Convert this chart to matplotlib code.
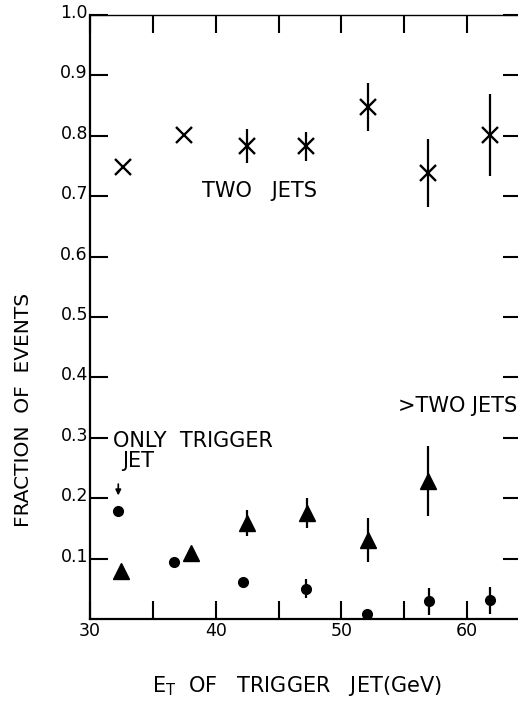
import matplotlib
matplotlib.use("Agg")
import matplotlib.pyplot as plt
import matplotlib.transforms as mtransforms

# Fraction of events vs. transverse energy of the trigger jet
et_two = [32.6, 37.5, 42.5, 47.2, 52.1, 56.9, 61.8]
frac_two = [0.748, 0.801, 0.783, 0.783, 0.848, 0.738, 0.801]
err_two = [0.0, 0.0, 0.028, 0.024, 0.040, 0.056, 0.068]

et_only = [32.25, 36.7, 42.2, 47.2, 52.0, 57.0, 61.8]
frac_only = [0.178, 0.094, 0.061, 0.050, 0.009, 0.029, 0.031]
err_only = [0.0, 0.0, 0.0, 0.016, 0.0, 0.022, 0.022]

et_more = [32.5, 38.0, 42.5, 47.3, 52.1, 56.9]
frac_more = [0.080, 0.110, 0.159, 0.175, 0.131, 0.228]
err_more = [0.0, 0.0, 0.022, 0.025, 0.037, 0.058]

x_major = [30, 35, 40, 45, 50, 55, 60]
x_labels = ["30", "", "40", "", "50", "", "60"]
y_major = [0.1, 0.2, 0.3, 0.4, 0.5, 0.6, 0.7, 0.8, 0.9, 1.0]
y_labels = ["0.1", "0.2", "0.3", "0.4", "0.5", "0.6", "0.7", "0.8", "0.9", "1.0"]

plt.rcParams["font.family"] = ["DejaVu Sans"]
plt.rcParams["mathtext.default"] = "regular"

W, H = 518, 704
fig = plt.figure(figsize=(W / 100, H / 100), dpi=100)
ax_left, ax_top, ax_bottom, ax_right = 90, 15, 619, 521
ax_w, ax_h = ax_right - ax_left, ax_bottom - ax_top
ax = fig.add_axes([ax_left / W, 1 - ax_bottom / H, ax_w / W, ax_h / H])
ax.set_xlim(30, 30 + ax_w / 12.57)
ax.set_ylim(0, 1.0)

for side in ("left", "bottom", "right"):
    ax.spines[side].set_linewidth(1.6)
ax.spines["top"].set_linewidth(1.0)

# Ticks: all pointing inward, labels only on left and bottom
ax.set_xticks(x_major)
ax.set_xticklabels(x_labels, fontsize=12.5)
ax.set_yticks(y_major)
ax.set_yticklabels(y_labels, fontsize=12.5)
ax.tick_params(axis="both", direction="in", length=13, width=1.5,
               top=True, right=True, pad=2.5)
ax.tick_params(axis="y", pad=1.5)
shift = mtransforms.ScaledTranslation(0, 4 / 100, fig.dpi_scale_trans)
for lab in ax.get_yticklabels():
    lab.set_transform(lab.get_transform() + shift)

# Two-jet events
ax.errorbar(et_two, frac_two, yerr=err_two, fmt="x", color="black",
            markersize=11, markeredgewidth=1.7, elinewidth=1.6, capsize=0)
# Only the trigger jet
ax.errorbar(et_only, frac_only, yerr=err_only, fmt="o", color="black",
            markersize=7, elinewidth=1.6, capsize=0)
# More than two jets
ax.errorbar(et_more, frac_more, yerr=err_more, fmt="^", color="black",
            markersize=11, elinewidth=1.6, capsize=0)

txt = dict(fontsize=15, color="black", va="center", ha="left")
ax.text(38.9, 0.709, "TWO   JETS", **txt)
ax.text(31.85, 0.295, "ONLY  TRIGGER", **txt)
ax.text(32.55, 0.261, "JET", **txt)
ax.text(54.5, 0.353, ">TWO JETS", **txt)
ax.annotate("", xy=(32.25, 0.200), xytext=(32.25, 0.228),
            arrowprops=dict(arrowstyle="-|>", color="black", lw=1.2,
                            mutation_scale=8))

ax.set_ylabel("FRACTION  OF  EVENTS", fontsize=14.5)
ax.yaxis.set_label_coords((33 - ax_left) / ax_w, (ax_bottom - 410) / ax_h)
ax.set_xlabel(r"E$_T$  OF   TRIGGER   JET(GeV)", fontsize=15)
ax.xaxis.set_label_coords((297 - ax_left) / ax_w, -(674 - ax_bottom) / ax_h)

fig.savefig("out.png", dpi=100)
